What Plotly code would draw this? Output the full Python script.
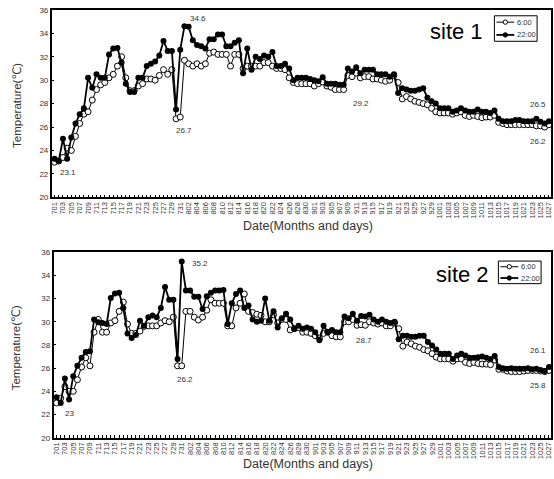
import plotly.graph_objects as go

# ---------------- data ----------------
months = [("7", 31), ("8", 31), ("9", 30), ("10", 27)]
dates = [f"{m}{d:02d}" for m, n in months for d in range(1, n + 1)]
tick_text = [d if i % 2 == 0 else "" for i, d in enumerate(dates)]

site1_0600 = [
    23.0, 23.1, 23.4, 24.2, 24.0, 25.2, 26.3, 27.1, 27.3, 28.3,
    29.2, 29.6, 29.8, 30.2, 30.5, 31.2, 32.0, 30.2, 29.1, 29.1,
    29.5, 29.7, 30.1, 30.1, 30.0, 30.4, 30.9, 30.5, 30.9, 26.7,
    26.85, 31.7, 31.4, 31.2, 31.4, 31.2, 31.4, 32.3, 32.4, 32.2,
    32.2, 32.2, 31.2, 32.2, 32.2, 31.0, 31.2, 31.2, 31.2, 31.2,
    31.5, 31.5, 31.2, 31.0, 31.0, 30.9, 30.2, 29.8, 29.7, 29.7,
    29.7, 29.7, 29.5, 29.7, 29.85, 29.5, 29.4, 29.2, 29.2, 29.2,
    30.4, 30.3, 30.6, 30.2, 30.3, 30.3, 30.1, 30.1, 30.0, 29.9,
    30.0, 30.4, 29.8, 28.4, 28.6, 28.4, 28.2, 28.1, 28.0, 27.9,
    27.6, 27.3, 27.2, 27.2, 27.2, 27.1, 27.2, 27.3, 27.0, 26.9,
    27.0, 26.9, 26.8, 26.85, 26.85, 27.0, 26.4, 26.3, 26.2, 26.2,
    26.2, 26.2, 26.2, 26.2, 26.2, 26.1, 26.1, 26.0, 26.2,
]
site1_2200 = [
    23.3, 23.1, 25.0, 23.3, 25.1, 26.3, 27.1, 27.6, 30.2, 29.35,
    30.5, 30.2, 30.2, 32.2, 32.7, 32.75, 31.5, 29.7, 29.0, 29.0,
    30.2, 30.2, 31.2, 31.4, 31.6, 32.1, 33.35, 32.5, 32.5, 27.5,
    32.6, 34.6, 34.55, 33.4, 33.0, 32.9, 32.7, 33.5, 33.5, 33.9,
    33.9, 32.9, 32.9, 33.2, 33.4, 30.6, 32.7, 30.9, 32.0, 31.8,
    32.1, 32.0, 32.4, 31.2, 31.2, 31.4, 31.0, 30.0, 30.2, 30.2,
    30.2, 30.1, 30.0, 29.9, 30.25, 29.7, 29.7, 29.7, 29.6, 29.6,
    31.0, 30.75, 31.1, 30.6, 30.9, 30.9, 30.9, 30.5, 30.5, 30.5,
    30.3, 30.5, 28.9, 29.3, 29.2, 29.1, 29.1, 29.2, 29.3, 28.5,
    28.2, 28.0, 27.6, 27.6, 27.6, 27.3, 27.4, 27.6, 27.4, 27.3,
    27.3, 27.5, 27.3, 27.3, 27.2, 27.4, 26.7, 26.5, 26.5, 26.5,
    26.6, 26.6, 26.5, 26.5, 26.5, 26.7, 26.45, 26.3, 26.5,
]
site2_0600 = [
    23.0, 23.4, 24.4, 24.0, 24.0, 25.0, 26.1, 26.9, 26.2, 29.1,
    30.2, 29.1, 29.1, 29.9, 30.1, 30.9, 31.7, 29.8, 29.0, 29.0,
    29.2, 29.6, 29.65, 29.65, 29.65, 29.9, 30.1, 30.0, 30.4, 26.2,
    26.2, 30.9, 30.9, 30.4, 30.15, 30.4, 31.0, 31.9, 31.6, 31.6,
    31.6, 29.65, 29.65, 31.2, 31.6, 32.4, 30.9, 30.8, 30.65, 30.55,
    30.0, 30.0, 30.6, 29.9, 30.2, 30.2, 29.3, 29.4, 29.5, 29.1,
    29.1, 29.0, 28.8, 28.6, 29.0, 29.1, 28.8, 28.7, 28.7, 30.0,
    30.0, 30.2, 29.7, 29.75, 29.7, 30.0, 29.9, 29.8, 29.9, 29.65,
    29.65, 29.9, 29.4, 27.9, 28.25, 28.1, 27.9, 27.8, 27.6, 27.5,
    27.25, 26.95, 26.8, 26.8, 26.8, 26.6, 26.8, 26.8, 26.5, 26.4,
    26.5, 26.4, 26.35, 26.35, 26.3, 26.7, 25.9, 25.9, 25.75, 25.7,
    25.7, 25.7, 25.75, 25.8, 25.8, 25.8, 25.75, 25.7, 25.8,
]
site2_2200 = [
    23.5, 23.0, 25.1, 23.3, 25.3, 26.2, 26.9, 27.4, 27.45, 30.2,
    29.95, 29.9, 29.8, 32.05, 32.45, 32.5, 31.2, 29.0, 28.6, 28.85,
    30.1, 29.65, 30.4, 30.55, 30.4, 31.2, 33.0, 31.9, 31.9, 26.8,
    35.2, 32.7, 32.7, 32.15, 32.15, 31.1, 32.2, 32.5, 32.7, 32.7,
    32.75, 29.8, 31.6, 32.4, 32.7, 31.2, 31.4, 30.2, 30.0, 30.1,
    32.0, 30.1, 30.9, 29.5, 30.3, 30.7, 30.2, 29.4, 29.65, 29.4,
    29.5, 29.4, 29.1, 28.4, 29.65, 29.1, 29.3, 29.1, 29.1, 30.45,
    30.3, 30.7, 30.1, 30.5, 30.45, 30.6, 30.2, 30.0, 30.2, 30.0,
    29.9, 30.0, 28.5, 28.8, 28.8, 28.7, 28.7, 28.8, 28.8, 28.25,
    27.95, 27.6, 27.25, 27.25, 27.25, 26.8, 27.1, 27.25, 27.1, 26.9,
    26.9, 26.95, 27.0, 26.9, 26.8, 27.05, 26.1, 26.0, 25.95, 26.0,
    25.95, 25.95, 25.95, 26.0, 25.9, 25.95, 25.85, 25.75, 26.1,
]

series_names = ["6:00", "22:00"]
site_titles = ["site 1", "site 2"]
y_ticks = [20, 22, 24, 26, 28, 30, 32, 34, 36]

# value labels: (text, x index, y value)
labels1 = [("23.1", 3.2, 22.1), ("34.6", 34.2, 35.25), ("26.7", 31.0, 25.7),
           ("29.2", 73.2, 28.0), ("26.5", 115.3, 27.9), ("26.2", 115.3, 24.8)]
labels2 = [("23", 3.0, 22.1), ("35.2", 34.4, 35.0), ("26.2", 30.8, 25.0),
           ("28.7", 73.7, 28.4), ("26.1", 115.3, 27.5), ("25.8", 115.3, 24.5)]

# ---------------- figure ----------------
W, H = 554, 479
FONT = "Liberation Sans, Arial, DejaVu Sans, sans-serif"
TXT = "#333333"

styles = [
    dict(line=dict(color="black", width=1),
         marker=dict(symbol="circle", size=6, color="white", line=dict(color="black", width=1))),
    dict(line=dict(color="black", width=1.8),
         marker=dict(symbol="circle", size=6, color="black")),
]

fig = go.Figure()
panels = [
    ((site1_0600, site1_2200), "x", "y"),
    ((site2_0600, site2_2200), "x2", "y2"),
]
for series, xa, ya in panels:
    for name, vals, st in zip(series_names, series, styles):
        fig.add_trace(go.Scatter(
            x=dates, y=vals, name=name, mode="lines+markers",
            xaxis=xa, yaxis=ya, showlegend=False, **st,
        ))

def px_x(p):
    return p / W

def px_y(p):
    return 1 - p / H

xcommon = dict(
    type="category", range=[-0.7, len(dates) - 0.5],
    tickmode="array", tickvals=dates, ticktext=tick_text,
    tickangle=-90, tickfont=dict(size=7.5, color=TXT, family=FONT),
    ticks="inside", ticklen=3, tickcolor="black",
    showline=True, linecolor="black", linewidth=1.5, mirror=True,
    showgrid=False, zeroline=False,
)
ycommon = dict(
    range=[20, 36], tickmode="array", tickvals=y_ticks,
    tickfont=dict(size=8, color=TXT, family=FONT),
    ticks="inside", ticklen=3, tickcolor="black",
    showline=True, linecolor="black", linewidth=1.5, mirror=True,
    showgrid=False, zeroline=False,
)

def note(text, x, y, size, color=TXT, xref="paper", yref="paper", angle=0, xanchor="center"):
    return dict(text=text, x=x, y=y, xref=xref, yref=yref, showarrow=False,
                xanchor=xanchor, yanchor="middle", textangle=angle,
                font=dict(size=size, color=color, family=FONT))

annotations = []
shapes = []
for (t, xi, yv) in labels1:
    annotations.append(note(t, xi, yv, 8, xref="x", yref="y"))
for (t, xi, yv) in labels2:
    annotations.append(note(t, xi, yv, 8, xref="x2", yref="y2"))

# site titles
annotations.append(note(site_titles[0], px_x(458), px_y(28), 22, color="black"))
annotations.append(note(site_titles[1], px_x(464), px_y(276), 22, color="black"))
# axis titles
for yc, xc in [(103, 226), (350, 469)]:
    annotations.append(note("Temperature(℃)", px_x(15), px_y(yc), 11.5, angle=-90))
    annotations.append(note("Date(Months and days)", px_x(308), px_y(xc), 12.5))

# compact legends (box: left, top, right, bottom in px)
legend_boxes = [(496, 12, 539, 38), (500, 262, 543, 285)]
for (l, t, r, b) in legend_boxes:
    shapes.append(dict(type="rect", xref="paper", yref="paper",
                       x0=px_x(l), x1=px_x(r), y0=px_y(b), y1=px_y(t),
                       line=dict(color="black", width=1), fillcolor="white", layer="above"))
    step = (b - t) / 2
    for k, (name, st) in enumerate(zip(series_names, styles)):
        yc = t + step * (k + 0.5)
        shapes.append(dict(type="line", xref="paper", yref="paper",
                           x0=px_x(l + 2), x1=px_x(l + 20), y0=px_y(yc), y1=px_y(yc),
                           line=dict(color="black", width=st["line"]["width"]), layer="above"))
        rr = 2.2
        shapes.append(dict(type="circle", xref="paper", yref="paper",
                           x0=px_x(l + 11 - rr), x1=px_x(l + 11 + rr),
                           y0=px_y(yc + rr), y1=px_y(yc - rr),
                           line=dict(color="black", width=1),
                           fillcolor=st["marker"]["color"], layer="above"))
        annotations.append(note(name, px_x(l + 21), px_y(yc), 7.5, xanchor="left"))

fig.update_layout(
    width=W, height=H,
    margin=dict(l=0, r=0, t=0, b=0),
    paper_bgcolor="white", plot_bgcolor="white",
    showlegend=False,
    xaxis=dict(domain=[px_x(50), px_x(553)], anchor="y", **xcommon),
    yaxis=dict(domain=[px_y(197), px_y(6)], anchor="x", **ycommon),
    xaxis2=dict(domain=[px_x(52), px_x(553)], anchor="y2", **xcommon),
    yaxis2=dict(domain=[px_y(442), px_y(253)], anchor="x2", **ycommon),
    annotations=annotations,
    shapes=shapes,
    font=dict(family=FONT, color=TXT),
)

fig.write_html(
    "out.html",
    config=dict(displayModeBar=False),
    post_script="document.body.style.margin='0';document.body.style.padding='0';",
)
